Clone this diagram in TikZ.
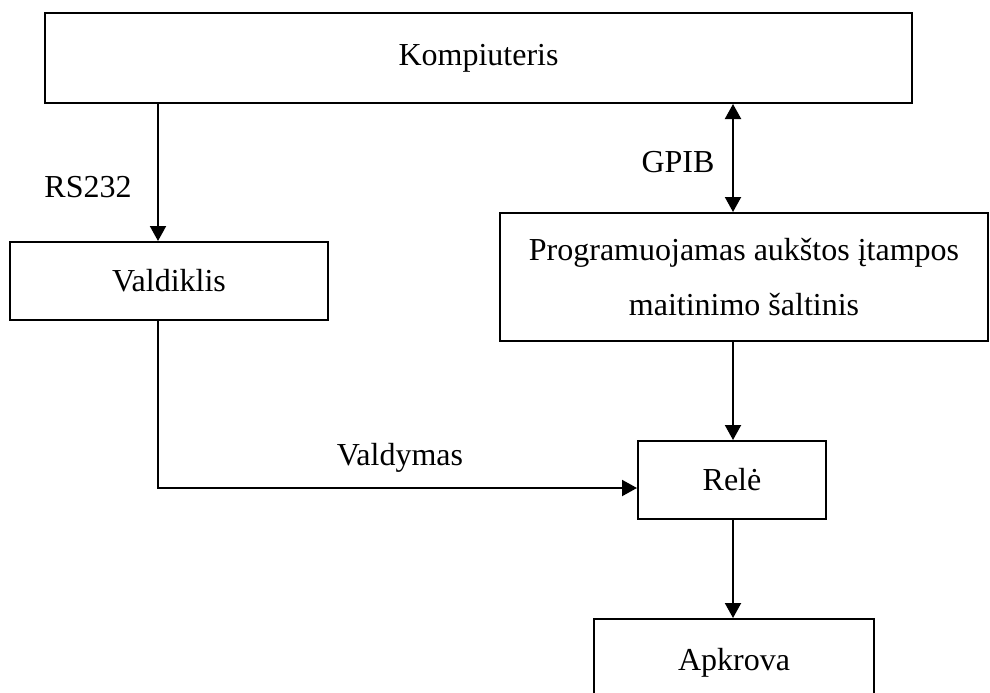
\documentclass[tikz,border=0pt]{standalone}
\usepackage{fontspec}
\setmainfont{Liberation Serif}
\usetikzlibrary{arrows.meta}
\begin{document}
\begin{tikzpicture}[x=1pt,y=-1pt,
  box/.style={draw,line width=2pt,inner sep=0pt,align=center,font=\fontsize{32}{55}\selectfont},
  lbl/.style={inner sep=0pt,font=\fontsize{32}{38}\selectfont},
  conn/.style={line width=2pt,-{Triangle[length=15pt,width=16pt]}},
  conn2/.style={line width=2pt,{Triangle[length=15pt,width=16pt]}-{Triangle[length=15pt,width=16pt]}}]
\useasboundingbox (0,0) rectangle (990,693);
\clip (0,0) rectangle (990,693);
\node[box,minimum width=867pt,minimum height=90pt] (komp) at (478.5,58) {Kompiuteris};
\node[box,minimum width=318pt,minimum height=78pt] (vald) at (169,281) {Valdiklis};
\node[box,minimum width=488pt,minimum height=128pt] (prog) at (744,277) {Programuojamas aukštos įtampos\\maitinimo šaltinis};
\node[box,minimum width=188pt,minimum height=78pt] (rele) at (732,480) {Relė};
\node[box,minimum width=280pt,minimum height=88pt] (apk) at (734,663) {Apkrova};
\node[lbl] (rs) at (88,187) {RS232};
\node[lbl] (gpib) at (678,162) {GPIB};
\node[lbl] (valdym) at (400,458) {Valdymas};
\coordinate (xl) at (158,0);
\coordinate (xr) at (733,0);
\coordinate (corner) at (158,488);
\draw[conn] (komp.south -| xl) -- (vald.north -| xl);
\draw[conn2] (komp.south -| xr) -- (prog.north -| xr);
\draw[conn] (prog.south -| xr) -- (rele.north -| xr);
\draw[conn] (rele.south -| xr) -- (apk.north -| xr);
\draw[conn] (vald.south -| xl) -- (corner) -- (corner -| rele.west);
\end{tikzpicture}
\end{document}
